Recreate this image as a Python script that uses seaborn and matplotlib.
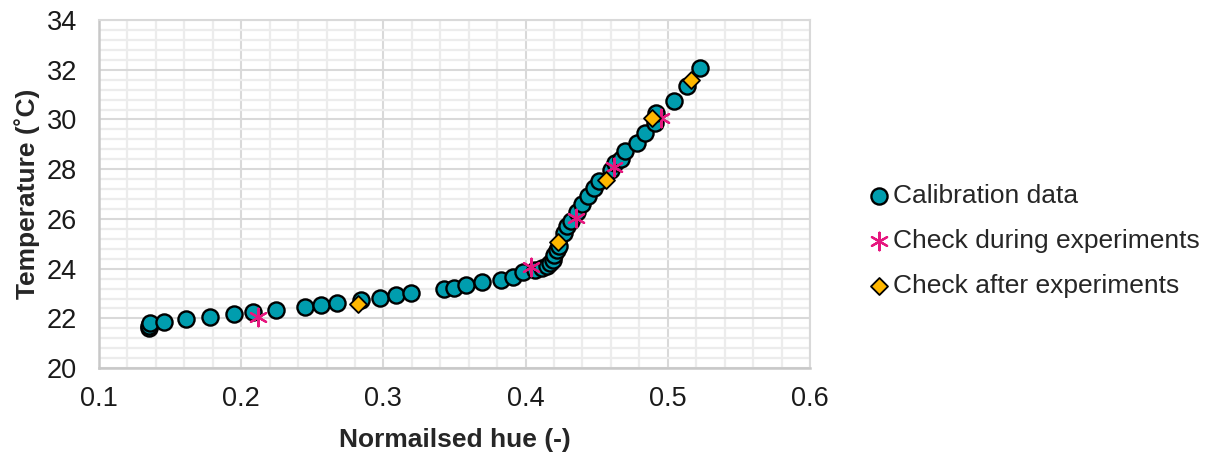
import matplotlib
matplotlib.use("Agg")
import matplotlib.pyplot as plt
from matplotlib.ticker import MultipleLocator
import seaborn as sns

# Calibration points: normalised hue vs temperature
calib_hue = [0.135, 0.135, 0.136, 0.146, 0.161, 0.178, 0.195, 0.208, 0.2245,
             0.2447, 0.256, 0.2674, 0.2842, 0.2974, 0.3086, 0.3194, 0.3428,
             0.3499, 0.3579, 0.3691, 0.3825, 0.3909, 0.3984, 0.4066, 0.4113,
             0.4148, 0.4172, 0.419, 0.4202, 0.4218, 0.4237, 0.427, 0.4289,
             0.4317, 0.4364, 0.4399, 0.4441, 0.4481, 0.4519, 0.4598, 0.4629,
             0.4671, 0.4701, 0.4786, 0.484, 0.491, 0.4917, 0.5044, 0.5137,
             0.5226]
calib_temp = [21.6, 21.68, 21.8, 21.86, 21.96, 22.05, 22.17, 22.24, 22.33,
              22.47, 22.55, 22.63, 22.76, 22.84, 22.96, 23.04, 23.17,
              23.23, 23.34, 23.46, 23.54, 23.65, 23.85, 23.94, 24.01,
              24.10, 24.21, 24.34, 24.55, 24.75, 24.91, 25.42, 25.72,
              25.93, 26.29, 26.6, 26.93, 27.23, 27.52, 27.96, 28.23,
              28.43, 28.74, 29.04, 29.44, 29.84, 30.24, 30.75, 31.36,
              32.06]

# Checks performed during the experiments
during_hue = [0.2116, 0.4038, 0.4354, 0.462, 0.495]
during_temp = [22.06, 24.07, 26.02, 28.07, 30.04]

# Checks performed after the experiments
after_hue = [0.2824, 0.423, 0.4563, 0.4887, 0.5161]
after_temp = [22.57, 25.06, 27.56, 30.04, 31.58]

x_ticks = [0.1, 0.2, 0.3, 0.4, 0.5, 0.6]
y_ticks = [20, 22, 24, 26, 28, 30, 32, 34]

sns.set_style("white")
plt.rcParams["font.family"] = ["Liberation Sans", "DejaVu Sans"]

fig = plt.figure(figsize=(12.08, 4.54), dpi=100)
ax = fig.add_axes([0.082, 0.189, 0.5885, 0.767])

sns.scatterplot(x=calib_hue, y=calib_temp, ax=ax, marker="o", s=135,
                color="#009DAE", edgecolor="black", linewidth=1.7,
                label="Calibration data", zorder=3)
sns.scatterplot(x=during_hue, y=during_temp, ax=ax, marker=(6, 2, 0), s=160,
                color="#E6177F", linewidth=1.6,
                label="Check during experiments", zorder=4)
sns.scatterplot(x=after_hue, y=after_temp, ax=ax, marker="D", s=75,
                color="#FFB700", edgecolor="black", linewidth=1.3,
                label="Check after experiments", zorder=5)

ax.set_xlim(0.1, 0.6)
ax.set_ylim(20, 34)
ax.set_xticks(x_ticks)
ax.set_yticks(y_ticks)
ax.set_xticklabels([f"{v:.1f}" for v in x_ticks])
ax.set_yticklabels([str(v) for v in y_ticks])
ax.xaxis.set_minor_locator(MultipleLocator(0.02))
ax.yaxis.set_minor_locator(MultipleLocator(0.4))
ax.grid(which="minor", color="#ececec", linewidth=1.6, zorder=0)
ax.grid(which="major", color="#d9d9d9", linewidth=1.5, zorder=1)
ax.set_axisbelow(True)
ax.tick_params(which="both", length=0, labelsize=19.5, colors="#1a1a1a")
ax.tick_params(axis="y", pad=16)
ax.tick_params(axis="x", pad=13)
for name, s in ax.spines.items():
    s.set_color("#c8c8c8" if name in ("left", "bottom") else "#d9d9d9")
    s.set_linewidth(1.8 if name in ("left", "bottom") else 1.5)

ax.set_xlabel("Normailsed hue (-)", fontsize=19, fontweight="bold", labelpad=11)
ax.set_ylabel("Temperature (˚C)", fontsize=19, fontweight="bold", labelpad=5)

ax.legend(loc="center left", bbox_to_anchor=(1.071, 0.365), frameon=False,
          fontsize=19, handlelength=0.6, handletextpad=0.25,
          labelspacing=0.8, borderaxespad=0)

fig.savefig("out.png", dpi=100)
